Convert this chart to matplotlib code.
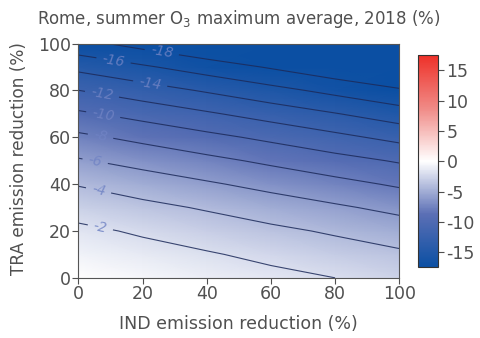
import numpy as np
import matplotlib
matplotlib.use("Agg")
import matplotlib.pyplot as plt
from matplotlib.colors import LinearSegmentedColormap

plt.rcParams["font.family"] = ["DejaVu Sans"]
plt.rcParams["axes.unicode_minus"] = False

# emission reduction steps (%)
ind_reduction = [0, 20, 40, 60, 80, 100]
tra_reduction = [0, 10, 20, 30, 40, 50, 60, 70, 80, 90, 100]

# change in summer O3 maximum average (%), one row per TRA step
o3_change = [
    [0.00, -0.50, -1.00, -1.50, -2.00, -2.62],
    [-0.80, -1.33, -1.83, -2.45, -3.09, -3.67],
    [-1.60, -2.24, -2.94, -3.59, -4.24, -4.99],
    [-2.78, -3.49, -4.19, -4.98, -5.72, -6.50],
    [-4.12, -4.97, -5.76, -6.58, -7.41, -8.26],
    [-5.81, -6.65, -7.49, -8.38, -9.29, -10.19],
    [-7.58, -8.50, -9.47, -10.44, -11.50, -12.57],
    [-9.67, -10.69, -11.74, -12.83, -13.90, -15.04],
    [-11.98, -13.10, -14.21, -15.37, -16.55, -17.73],
    [-14.54, -15.72, -16.95, -18.19, -19.50, -20.77],
    [-17.39, -18.72, -20.06, -21.37, -22.67, -24.00],
]

contour_levels = [-18, -16, -14, -12, -10, -8, -6, -4, -2]
cbar_ticks = [-15, -10, -5, 0, 5, 10, 15]

title = "Rome, summer O$_3$ maximum average, 2018 (%)"
xlabel = "IND emission reduction (%)"
ylabel = "TRA emission reduction (%)"

text_col = "#505050"
vlim = 17.5

cmap = LinearSegmentedColormap.from_list(
    "bwr_custom", ["#0b4fa3", "#5b6fb5", "#ffffff", "#f08a86", "#ee3129"]
)

X, Y = np.meshgrid(ind_reduction, tra_reduction)
Z = np.array(o3_change)

fig = plt.figure(figsize=(4.81, 3.38), dpi=100)
ax = fig.add_axes([0.163, 0.178, 0.667, 0.693])
cax = fig.add_axes([0.868, 0.209, 0.043, 0.628])

mesh = ax.pcolormesh(X, Y, Z, shading="gouraud", cmap=cmap, vmin=-vlim, vmax=vlim)
cs = ax.contour(X, Y, Z, levels=contour_levels, colors="#1c2a5a",
                linewidths=0.8, linestyles="solid", alpha=0.85)
label_spots = [(26, 96.4), (11, 93.3), (22.4, 83.2), (7.3, 78), (7.7, 69.5),
               (6.8, 59.6), (5.2, 49.6), (6.2, 36.8), (6.8, 21.2)]
labels = ax.clabel(cs, fmt="%d", fontsize=10, colors="#7083c4", inline=True,
                   inline_spacing=6, manual=label_spots)
for t in labels:
    t.set_fontstyle("italic")

ax.set_xlim(0, 100)
ax.set_ylim(0, 100)
ax.set_xticks([0, 20, 40, 60, 80, 100])
ax.set_yticks([0, 20, 40, 60, 80, 100])
ax.tick_params(colors=text_col, labelsize=12.5, length=4, width=0.8, pad=1.5)
for s in ax.spines.values():
    s.set_color("#555555")
    s.set_linewidth(0.8)
ax.set_xlabel(xlabel, fontsize=12.5, color=text_col, labelpad=8)
ax.set_ylabel(ylabel, fontsize=12.2, color=text_col)
ax.yaxis.set_label_coords(-0.158, 0.51)
ax.set_title(title, fontsize=12, color=text_col, pad=14)

cb = fig.colorbar(mesh, cax=cax, ticks=cbar_ticks)
cb.outline.set_edgecolor("#333333")
cb.outline.set_linewidth(0.8)
cax.tick_params(colors=text_col, labelsize=12.5, length=4, width=0.8, pad=2)

fig.savefig("out.png", dpi=100)
